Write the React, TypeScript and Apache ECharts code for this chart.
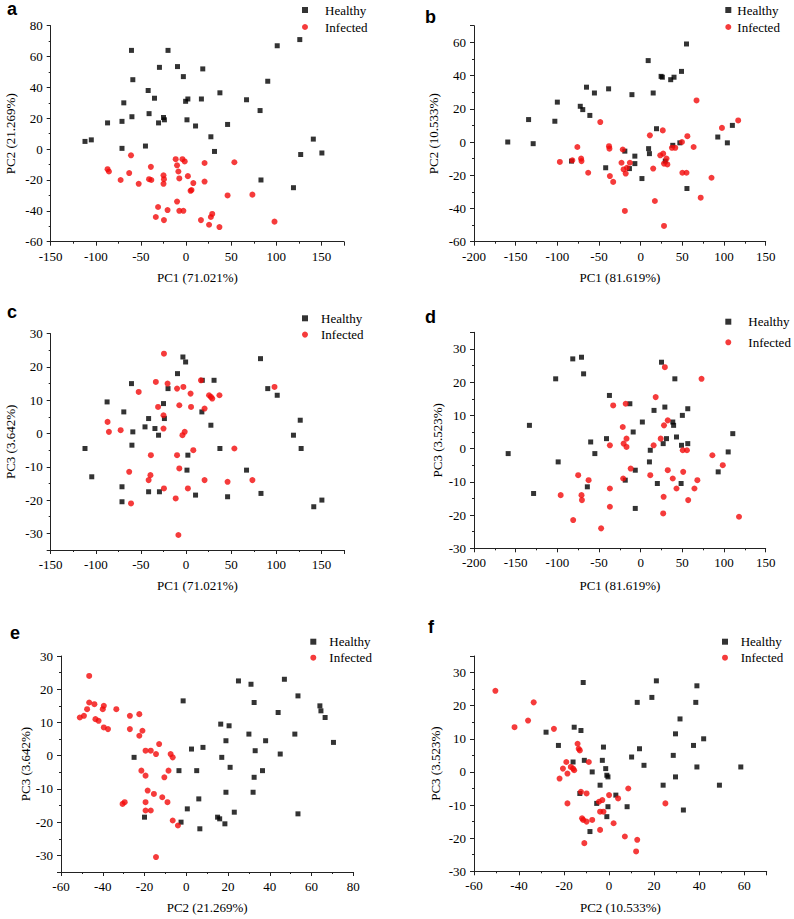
import React, { useEffect, useRef } from 'react';
import * as echarts from 'echarts';

// ---------- data ----------
const seriesNames = ['Healthy', 'Infected'];
const panelLetters = ['a', 'b', 'c', 'd', 'e', 'f'];
const xNames = ['PC1 (71.021%)', 'PC1 (81.619%)', 'PC1 (71.021%)', 'PC1 (81.619%)', 'PC2 (21.269%)', 'PC2 (10.533%)'];
const yNames = ['PC2 (21.269%)', 'PC2 (10.533%)', 'PC3 (3.642%)', 'PC3 (3.523%)', 'PC3 (3.642%)', 'PC3 (3.523%)'];

const aHealthy = [[-112,5],[-105,6],[-87,17],[-71,18],[-71,0.5],[-69,30],[-60.5,64],[-59,45],[-60,21],[-45,2],[-42,38],[-41,23],[-35,33],[-29.5,53],[-30.5,17],[-25,20.5],[-24,19],[-20,64],[-9.5,53.5],[-3,47],[-0.5,31],[2,32.5],[1,19],[10.5,15],[17,32.5],[18.5,52],[27.5,8],[31.5,-1.5],[37.5,36.5],[46,16],[67,32],[82,25],[83,-20],[90.5,44],[101,67],[126,71],[119,-25],[127,-3.5],[141,6.5],[150.5,-2.5]];
const aInfected = [[-61,-4],[-87,-13],[-85.5,-14.5],[-72.5,-20],[-63,-15.5],[-52.5,-22.5],[-39,-11.5],[-41,-19.5],[-38.5,-20],[-25,-17],[-24.5,-19.5],[-25,-22.5],[-31,-37.5],[-33.5,-44],[-20.5,-39.5],[-24.5,-46],[-11.5,-6.5],[-10,-10.5],[-8.5,-14.5],[-7.5,-19],[-10,-34],[-7.5,-40],[-3,-40],[-4,-6.5],[-1.5,-8],[2,-17.5],[5,-27],[8,-22],[20.5,-9],[20.5,-21],[16.5,-46],[25.5,-49],[27.5,-44],[29,-42],[37,-50.5],[46,-30],[53.5,-8.5],[73.5,-29.5],[98,-47],[6,-26.5]];

const bHealthy = [[-159.5,0],[-134.5,13.5],[-129,-1],[-103,12.5],[-100,24],[-83,-11.5],[-72.5,21.5],[-69.5,19.5],[-65,33],[-61,16],[-55.5,29.5],[-38.5,32],[-42,-15.5],[-19,-5.5],[-13.5,-16],[-10.5,28.5],[-7,-8.5],[-7,-13],[1.5,-22],[9,49],[9.5,-4],[10.5,-7],[15,29.5],[19,8],[24.5,39.5],[26,39],[29.5,-11.5],[36,37.5],[40,39],[38.5,-2],[47,-0.5],[49,42.5],[55,59],[55.5,-28],[92.5,3],[104,-0.5],[110,10]];
const bInfected = [[-97,-12],[-82,-11],[-76,-3],[-71.5,-10],[-71,-11.5],[-63,-18.5],[-48.5,12],[-38,-2.5],[-37.5,-4],[-37,-20.5],[-33,-24],[-21.5,-4.5],[-23,-12.5],[-20.5,-16.5],[-18,-19],[-16.5,-15.5],[-19,-41.5],[-13,-12.5],[11,4],[15,-16],[17,-35.5],[23.5,-8],[26.5,7],[27,-7],[28,-13],[31,-10],[32,-13.5],[28,-50.5],[37.5,-3.5],[41.5,-3.5],[49.5,0],[50,-18.5],[55,-18.5],[56,3.5],[63.5,-3],[67,25],[72,-33.5],[85,-21.5],[97.5,8.5],[117,13]];

const cHealthy = [[-112,-4.5],[-104.5,-13],[-87.5,9.5],[-71,-16],[-71,-20.5],[-69,6.5],[-60.5,15],[-60,-3.5],[-59,0.5],[-45.5,2],[-41.5,4.5],[-41.5,-17.5],[-34.5,1.5],[-30.5,-0.5],[-29.5,-17.5],[-25,9],[-24,4.5],[-20,13.5],[-9.5,18],[-3.5,23],[-0.5,21.5],[2,-6.5],[1,-11],[10.5,-18.5],[17.5,6.5],[18,16],[31,16],[27.5,2.5],[37.5,-4.5],[46,-19],[67,-11],[82.5,22.5],[83,-18],[90.5,13.5],[101,11.5],[119,-0.5],[126.5,4],[127.5,-4.5],[141.5,-22],[150.5,-20]];
const cInfected = [[-24.5,24],[-87,3.5],[-85.5,0.5],[-72.5,1],[-63,-11.5],[-61,-21],[-52.5,12.5],[-33.5,15.5],[-31,8],[-20.5,15],[-25,5.5],[-25,1.5],[-39,-6.5],[-39.5,-12.5],[-41.5,-14],[-24.5,-16.5],[-11.5,-19.5],[-10,13.5],[-7.5,8.5],[-10,-6.5],[-7.5,-10.5],[-8.5,-30.5],[-3,14],[-4,-0.5],[-1.5,0.5],[2,-16.5],[5,12],[5.5,8],[8,-5],[16.5,16],[20.5,7.5],[20.5,-14],[25.5,11.5],[27.5,11],[29,10.5],[37,11.5],[46,-14.5],[53.5,-4.5],[73.5,-14],[98,14]];

const dHealthy = [[-159,-1.5],[-133.5,7],[-128.5,-13.5],[-102,21],[-99,-4],[-81.5,27],[-71,27.5],[-68.5,22.5],[-64,-11.5],[-60,2],[-55,-1.5],[-41,3],[-37.5,16],[-18.5,-9.5],[-13,13.5],[-9,5],[-6.5,-6.5],[-6.5,-18],[2,8],[10.5,-4],[11.5,-0.5],[16,11.5],[20,-10.5],[25,26],[27,1.5],[29,12.5],[31,3],[38.5,8],[39.5,7],[41,21],[43,3.5],[48.5,-10.5],[49,1],[50,10],[56.5,12],[56.5,1.5],[93,-7],[105,-1],[110.5,4.5]];
const dInfected = [[-96,-14],[-81,-21.5],[-75,-8],[-71,-14],[-70.5,-15.5],[-62.5,-9.5],[-47.5,-24],[-37,1],[-37,-12],[-37,-17.5],[-33,13],[-21.5,6.5],[-20.5,1.5],[-21,-9],[-18,13.5],[-17,3],[-17,0.5],[-12,-6],[11.5,-8],[15.5,1],[18,15.5],[24,3],[27,-19.5],[27.5,-14.5],[28,7],[29,24.5],[32.5,8.5],[32.5,-6.5],[38.5,-9],[43,-12],[50.5,-0.5],[51,-7],[55.5,-0.5],[57,-15.5],[64.5,-12],[68,-9.5],[73,21],[86,-2],[98.5,-5],[118,-20.5]];

const eHealthy = [[-25,-0.5],[-20,-18.5],[-3.5,-4.5],[-2.5,-20],[-1.5,16.5],[0.5,-16],[2.5,2],[5,-4.5],[6,-13],[6.5,-22],[8,2.5],[15,-18.5],[16,-19],[16.5,9.5],[17,-0.5],[18.5,-20.5],[19,-11],[19,4.5],[20.5,9],[21,-3.5],[23,-17],[25,22.5],[30,6.5],[31,21.5],[32,-11],[32.5,-6.5],[32.5,16],[33,1.5],[36.5,-4.5],[38,4.5],[44,13],[45,0.5],[47,23],[52,6.5],[53.5,-17.5],[53.5,18],[64,15],[64.5,13.5],[66.5,11.5],[70.5,4]];
const eInfected = [[-51,11.5],[-49,12],[-47.5,14],[-46.5,24],[-46.5,16],[-44,15.5],[-43.5,11],[-42,10.5],[-40,14],[-39.5,15],[-39.5,8.5],[-37.5,8],[-33.5,14],[-30.5,-14.5],[-29.5,-14],[-27,12],[-27,8],[-22.5,12.5],[-22.5,6],[-21,7.5],[-21.5,-4.5],[-19.5,1.5],[-19.5,-6],[-19.5,-14],[-19.5,-16.5],[-18.5,-10.5],[-17,-16.5],[-17,1.5],[-14.5,0.5],[-15.5,-11.5],[-13,3.5],[-11.5,-12.5],[-10.5,-6.5],[-14.5,-30.5],[-9,-14],[-8.5,-4.5],[-7.5,0.5],[-6.5,-0.5],[-6.5,-19.5],[-4,-21]];

const fHealthy = [[-28,12],[-22.5,8],[-16,3],[-15.5,13.5],[-12.5,12.5],[-11.5,27],[-11,3.5],[-13,-6.5],[-8.5,-18],[-7.5,0],[-5.5,-9.5],[-4,-4],[-3,3.5],[-2.5,7.5],[-1.5,1],[-1,-1],[-0.5,-1.5],[-0.5,-10.5],[-1,-13.5],[3,-7],[8,-10.5],[10,4.5],[12.5,21],[13.5,7],[15.5,2],[19,22.5],[21,27.5],[24,-4],[28.5,5],[29.5,11.5],[29.5,-1.5],[31.5,16],[33,-11.5],[37.5,8],[38.5,21],[39,26],[39,1.5],[42,10],[49,-4],[58.5,1.5]];
const fInfected = [[-50.5,24.5],[-42,13.5],[-36,15.5],[-33.5,21],[-24.5,13],[-22,-2],[-20.5,1],[-19,3],[-18.5,-9.5],[-18.5,-0.5],[-17,1.5],[-16,1],[-15.5,0.5],[-14,8.5],[-13.5,7],[-13,6.5],[-12.5,-6],[-12,-14],[-11.5,-14.5],[-11,-21.5],[-10,-6.5],[-10,-15],[-9,3],[-7.5,-14.5],[-4.5,-9],[-4,-12],[-4,-17.5],[-3,-8.5],[-2.5,-12],[0,-7],[2,-15.5],[4,-8],[8.5,-5],[7,-19.5],[12.5,-20.5],[12,-24],[25,-9.5]];

const healthyData = [aHealthy, bHealthy, cHealthy, dHealthy, eHealthy, fHealthy];
const infectedData = [aInfected, bInfected, cInfected, dInfected, eInfected, fInfected];

// axis ranges: [min, max, label step]
const xRanges = [[-150, 175, 50], [-200, 150, 50], [-150, 175, 50], [-200, 150, 50], [-60, 80, 20], [-60, 70, 20]];
const yRanges = [[-60, 80, 20], [-60, 70, 20], [-35, 30, 10], [-30, 35, 10], [-35, 30, 10], [-30, 35, 10]];

// ---------- layout (pixels) ----------
const grids = [
  { left: 50.7, top: 25.7, width: 293.3, height: 216 },
  { left: 474, top: 25.7, width: 291.7, height: 216 },
  { left: 50.7, top: 333.7, width: 293.3, height: 216.3 },
  { left: 474, top: 332.3, width: 291.7, height: 216 },
  { left: 61, top: 656, width: 292.3, height: 216 },
  { left: 474, top: 656, width: 292.7, height: 215.3 },
];
const xNameGaps = [29, 29, 29, 30.5, 29, 29.5];
const yNameGaps = [34, 34, 34, 30, 29, 32];
// legend: icon centre x, first row centre y, row spacing, text start x
const legendPos = [
  [305, 10, 17, 325],
  [728.3, 10, 17, 737.3],
  [305, 318.3, 16.3, 321],
  [728.3, 321.7, 20.6, 748.3],
  [313.3, 641.7, 16, 329.3],
  [725, 641.7, 16, 740.7],
];
const letterPos = [[7, 0], [425, 8], [7, 303], [425, 308], [10, 624], [428, 618]];

const SERIF = '"Liberation Serif","Times New Roman",serif';
const SANS = '"Liberation Sans",Arial,sans-serif';
const AXIS_COLOR = '#222';
const RED = '#f20a0a';

function makeAxis(gi: number, r: number[], name: string, gap: number) {
  const [min, max, step] = r;
  const ax: any = {
    type: 'value',
    gridIndex: gi,
    min,
    max,
    name,
    nameLocation: 'middle',
    nameGap: gap,
    nameTextStyle: { fontFamily: SERIF, fontSize: 13, color: '#000' },
    axisLine: { show: true, onZero: false, lineStyle: { color: AXIS_COLOR, width: 1 } },
    axisTick: { show: true, inside: false, length: 4, lineStyle: { color: AXIS_COLOR } },
    minorTick: { show: true, splitNumber: 2, length: 2, lineStyle: { color: AXIS_COLOR } },
    splitLine: { show: false },
    minorSplitLine: { show: false },
    axisLabel: {
      fontFamily: SERIF,
      fontSize: 13,
      color: '#000',
      margin: 8,
      showMinLabel: min % step === 0,
      showMaxLabel: max % step === 0,
    },
  };
  if (min % step === 0) {
    ax.interval = step;
  } else {
    ax.minInterval = step;
    ax.maxInterval = step;
  }
  return ax;
}

function buildOption() {
  const grid = grids.map((g) => ({ ...g, containLabel: false }));
  const xAxis = xRanges.map((r, i) => makeAxis(i, r, xNames[i], xNameGaps[i]));
  const yAxis = yRanges.map((r, i) => makeAxis(i, r, yNames[i], yNameGaps[i]));
  const series: any[] = [];
  for (let i = 0; i < 6; i++) {
    series.push({
      type: 'scatter',
      name: seriesNames[0],
      xAxisIndex: i,
      yAxisIndex: i,
      symbol: 'rect',
      symbolSize: 5,
      itemStyle: { color: '#000' },
      data: healthyData[i],
    });
    series.push({
      type: 'scatter',
      name: seriesNames[1],
      xAxisIndex: i,
      yAxisIndex: i,
      symbol: 'circle',
      symbolSize: 6,
      itemStyle: { color: RED },
      data: infectedData[i],
    });
  }
  const legend = legendPos.map(([ix, iy, sp, tx]) => ({
    data: seriesNames,
    orient: 'vertical',
    left: ix - 3,
    top: iy - 7,
    padding: 0,
    itemWidth: 6,
    itemHeight: 6,
    itemGap: sp - 14,
    selectedMode: false,
    textStyle: {
      fontFamily: SERIF,
      fontSize: 13,
      color: '#000',
      lineHeight: 14,
      padding: [0, 0, 0, Math.max(0, tx - (ix + 3) - 5)],
    },
  }));
  const title = panelLetters.map((t, i) => ({
    text: t,
    left: letterPos[i][0],
    top: letterPos[i][1],
    padding: 0,
    textStyle: { fontFamily: SANS, fontWeight: 'bold', fontSize: 18, color: '#000' },
  }));
  return {
    animation: false,
    backgroundColor: '#fff',
    title,
    legend,
    grid,
    xAxis,
    yAxis,
    series,
  };
}

export default function App() {
  const ref = useRef<HTMLDivElement>(null);
  useEffect(() => {
    if (!ref.current) return;
    const chart = echarts.init(ref.current, undefined, { renderer: 'svg' });
    chart.setOption(buildOption() as any);
    return () => chart.dispose();
  }, []);
  return (
    <div
      ref={ref}
      style={{ position: 'absolute', left: 0, top: 0, width: 794, height: 919, background: '#fff' }}
    />
  );
}
